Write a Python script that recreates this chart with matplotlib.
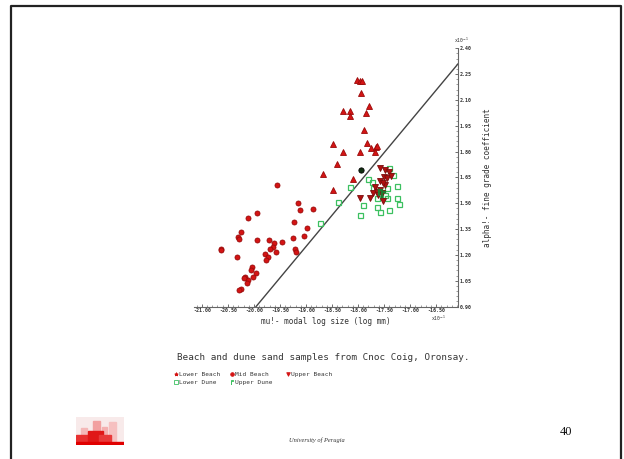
import numpy as np
import matplotlib
matplotlib.use("Agg")
import matplotlib.pyplot as plt
from matplotlib.lines import Line2D
from matplotlib.patches import Rectangle
from matplotlib.ticker import MultipleLocator, FixedLocator

# --- data (x = mu, y = alpha, both x10^-1) ---
lower_beach_x = [-19.56, -19.15, -19.12, -18.86, -20.12, -19.94, -19.23, -18.99,
                 -20.25, -20.31, -20.29, -19.94, -19.72, -19.62, -19.46, -19.63,
                 -19.69, -19.25, -19.04, -20.64, -20.63, -19.22, -19.19, -20.32,
                 -19.79, -19.73, -19.77, -19.57, -20.04, -20.05, -20.17, -20.12,
                 -20.19, -20.13, -19.96, -20.02, -20.25, -20.29]
lower_beach_y = [1.604, 1.502, 1.459, 1.469, 1.415, 1.442, 1.394, 1.359,
                 1.335, 1.306, 1.295, 1.287, 1.287, 1.272, 1.274, 1.245,
                 1.233, 1.301, 1.312, 1.237, 1.229, 1.235, 1.219, 1.186,
                 1.206, 1.190, 1.171, 1.215, 1.132, 1.113, 1.074, 1.055,
                 1.065, 1.035, 1.094, 1.074, 1.005, 0.997]

mid_beach_x = [-18.02, -17.96, -17.92, -17.95, -18.29, -18.15, -18.15, -17.79,
               -17.84, -17.89, -18.49, -17.82, -17.75, -17.65, -17.63, -17.68,
               -18.29, -17.96, -18.41, -18.67, -18.10, -18.48]
mid_beach_y = [2.216, 2.210, 2.208, 2.142, 2.036, 2.036, 2.009, 2.065,
               2.026, 1.926, 1.843, 1.852, 1.819, 1.829, 1.835, 1.800,
               1.796, 1.800, 1.728, 1.670, 1.643, 1.575]

upper_beach_x = [-17.58, -17.48, -17.40, -17.51, -17.45, -17.37, -17.58, -17.48,
                 -17.53, -17.67, -17.71, -17.64, -17.58, -17.54, -17.61, -17.96,
                 -17.77, -17.53]
upper_beach_y = [1.707, 1.694, 1.684, 1.655, 1.646, 1.659, 1.630, 1.607,
                 1.617, 1.597, 1.562, 1.568, 1.578, 1.562, 1.545, 1.530,
                 1.530, 1.514]

lower_dune_x = [-18.38, -18.74, -17.80, -17.74, -18.15, -17.71, -17.45, -17.26,
                -17.64, -17.45, -17.26, -17.21, -17.90, -17.64, -17.58, -17.40,
                -17.96, -17.48, -17.40, -17.33]
lower_dune_y = [1.510, 1.388, 1.642, 1.626, 1.593, 1.588, 1.588, 1.603,
                1.533, 1.530, 1.530, 1.495, 1.491, 1.481, 1.452, 1.462,
                1.432, 1.549, 1.705, 1.665]

upper_dune_x = [-17.58, -17.52]
upper_dune_y = [1.565, 1.555]

other_x = [-17.94]
other_y = [1.695]

line_x = [-19.96, -16.05]
line_y = [0.90, 2.32]

x_ticks = [-21.0, -20.5, -20.0, -19.5, -19.0, -18.5, -18.0, -17.5, -17.0, -16.5]
y_ticks = [0.90, 1.05, 1.20, 1.35, 1.50, 1.65, 1.80, 1.95, 2.10, 2.25, 2.40]

RED = '#d41414'
DARK = '#7a0c0c'
GREEN = '#3cc060'
MONO = 'DejaVu Sans Mono'

fig = plt.figure(figsize=(6.24, 4.59), dpi=100)
ax = fig.add_axes([0.311, 0.332, 0.423, 0.563])

ax.plot(line_x, line_y, color='#444444', lw=1.0)

ax.plot(lower_dune_x, lower_dune_y, 's', ms=3.6, mfc='none', mec=GREEN, mew=0.9)
ax.plot(lower_beach_x, lower_beach_y, 'o', ms=3.6, mfc=RED, mec='#9a0a0a', mew=0.6)
ax.plot(mid_beach_x, mid_beach_y, '^', ms=3.8, mfc=RED, mec='#9a0a0a', mew=0.6)
ax.plot(upper_beach_x, upper_beach_y, 'v', ms=3.8, mfc='#b01010', mec=DARK, mew=0.6)
ax.plot(upper_dune_x, upper_dune_y, marker=r'$\Gamma$', ls='none', ms=4, color='#1f7a30')
ax.plot(other_x, other_y, 'o', ms=3.8, mfc='#103010', mec='black', mew=0.6)

ax.set_xlim(-21.15, -16.08)
ax.set_ylim(0.90, 2.40)

for s in ['top', 'left']:
    ax.spines[s].set_visible(False)
ax.spines['bottom'].set_color('#666666')
ax.spines['right'].set_color('#666666')
ax.spines['bottom'].set_linestyle((0, (1, 1)))
ax.spines['right'].set_linestyle((0, (1, 1)))

ax.yaxis.tick_right()
ax.xaxis.set_major_locator(FixedLocator(x_ticks))
ax.yaxis.set_major_locator(FixedLocator(y_ticks))
ax.xaxis.set_minor_locator(MultipleLocator(0.1))
ax.yaxis.set_minor_locator(MultipleLocator(0.03))
ax.set_xticklabels([f'{v:.2f}' for v in x_ticks])
ax.set_yticklabels([f'{v:.2f}' for v in y_ticks])
ax.tick_params(axis='both', which='major', direction='in', length=2.5, width=0.6,
               color='#555555', labelsize=3.6, pad=1, labelcolor='#333333')
ax.tick_params(axis='both', which='minor', direction='in', length=1.5, width=0.5,
               color='#777777')
for lab in ax.get_xticklabels() + ax.get_yticklabels():
    lab.set_fontfamily(MONO)
    lab.set_fontweight('bold')

ax.set_xlabel('mu!- modal log size (log mm)', fontsize=5.6, family=MONO,
              color='#333333', labelpad=3)
ax.yaxis.set_label_position('right')
ax.set_ylabel('alpha!- fine grade coefficient', fontsize=5.6, family=MONO,
              color='#333333', labelpad=8, rotation=90)

fig.text(0.727, 0.906, 'x10$^{-1}$', fontsize=3.4, family=MONO, color='#333333')
fig.text(0.690, 0.302, 'x10$^{-1}$', fontsize=3.4, family=MONO, color='#333333')

# caption and key
fig.text(0.284, 0.222, 'Beach and dune sand samples from Cnoc Coig, Oronsay.',
         fontsize=6.7, family=MONO, color='#333333', va='center')
key_row1 = [('*', RED, 'Lower Beach', 0.282), ('o', RED, 'Mid Beach', 0.371),
            ('v', RED, 'Upper Beach', 0.461)]
key_row2 = [('s', GREEN, 'Lower Dune', 0.282), (r'$\Gamma$', GREEN, 'Upper Dune', 0.371)]
for row, yy in [(key_row1, 0.185), (key_row2, 0.167)]:
    for mk, col, txt, xx in row:
        mfc = 'none' if mk == 's' else col
        fig.add_artist(Line2D([xx], [yy], marker=mk, ms=2.6, mfc=mfc, mec=col,
                              mew=0.6, ls='none', transform=fig.transFigure))
        fig.text(xx + 0.005, yy, txt, fontsize=4.4, family=MONO, color='#333333',
                 va='center')

# slide frame
fig.add_artist(Line2D([0.018, 0.018, 0.995, 0.995], [0.0, 0.988, 0.988, 0.0],
                      color='#222222', lw=1.6, transform=fig.transFigure))

# footer logo
lax = fig.add_axes([0.122, 0.030, 0.076, 0.062])
lax.set_xlim(0, 10)
lax.set_ylim(0, 10)
lax.axis('off')
lax.add_patch(Rectangle((0, 0), 10, 10, color='#f8eaea'))
for x0, w, h, c in [(1.0, 1.2, 6, '#f4b8b8'), (3.6, 1.4, 8.5, '#f2a0a0'),
                    (5.4, 1.2, 6.5, '#f4b0b0'), (7.0, 1.5, 8, '#f6c0c0'),
                    (0.0, 4.5, 3.5, '#e83030'), (2.6, 3.0, 5.0, '#e01818'),
                    (4.8, 2.5, 3.5, '#e83a3a')]:
    lax.add_patch(Rectangle((x0, 0), w, h, color=c))
lax.add_patch(Rectangle((0, 0), 10, 1.2, color='#e00000'))

fig.text(0.508, 0.040, 'University of Perugia', fontsize=4.6, family='Liberation Serif',
         style='italic', color='#333333', ha='center', va='center')
fig.text(0.907, 0.058, '40', fontsize=9, family='Liberation Serif', color='#111111',
         ha='center', va='center')

fig.savefig('out.png', dpi=100, facecolor='white')
